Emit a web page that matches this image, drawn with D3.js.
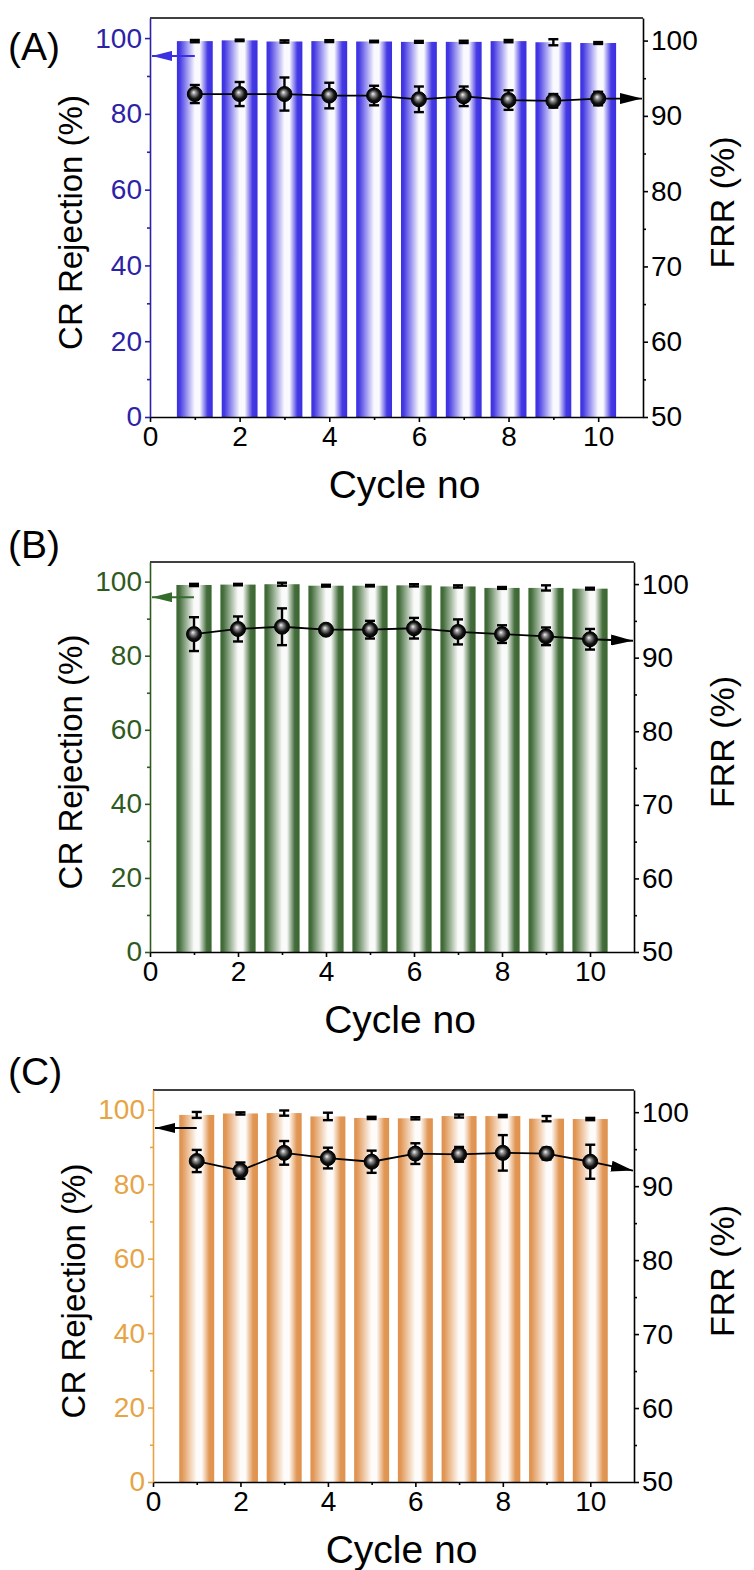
<!DOCTYPE html>
<html>
<head>
<meta charset="utf-8">
<script src="https://cdn.jsdelivr.net/npm/d3@7"></script>
<style>
  body { margin: 0; background: #fff; }
  svg { display: block; }
  text { font-family: "Liberation Sans", Arial, sans-serif; }
</style>
</head>
<body>
<div id="chart"></div>
<script>
// ---- data ----
var cycles = [1, 2, 3, 4, 5, 6, 7, 8, 9, 10];

var crA    = [99.2, 99.4, 99.1, 99.2, 99.1, 99.0, 99.0, 99.2, 98.9, 98.7];
var crAErr = [0.3, 0.2, 0.3, 0.25, 0.2, 0.25, 0.3, 0.3, 0.8, 0.25];
var frrA    = [92.9, 92.9, 92.9, 92.7, 92.7, 92.2, 92.6, 92.1, 92.0, 92.3];
var frrAErr = [1.2, 1.6, 2.2, 1.7, 1.3, 1.7, 1.3, 1.3, 0.9, 0.9];

var crB    = [99.1, 99.2, 99.3, 98.9, 98.9, 99.0, 98.7, 98.3, 98.3, 98.1];
var crBErr = [0.3, 0.2, 0.4, 0.25, 0.2, 0.3, 0.3, 0.25, 0.7, 0.25];
var frrB    = [93.2, 93.9, 94.2, 93.8, 93.8, 94.0, 93.5, 93.2, 92.9, 92.5];
var frrBErr = [2.3, 1.7, 2.5, 0.6, 1.2, 1.4, 1.7, 1.2, 1.2, 1.4];

var crC    = [98.6, 99.0, 99.1, 98.2, 97.8, 97.7, 98.3, 98.3, 97.6, 97.5];
var crCErr = [0.8, 0.3, 0.7, 1.0, 0.3, 0.3, 0.4, 0.3, 0.7, 0.3];
var frrC    = [93.4, 92.1, 94.5, 93.8, 93.3, 94.4, 94.3, 94.5, 94.4, 93.3];
var frrCErr = [1.5, 1.1, 1.6, 1.4, 1.5, 1.4, 1.0, 2.4, 0.8, 2.3];

var xTicks = [0, 2, 4, 6, 8, 10];
var xMinor = [1, 3, 5, 7, 9];
var leftTicks = [0, 20, 40, 60, 80, 100];
var leftMinor = [10, 30, 50, 70, 90];
var rightTicks = [50, 60, 70, 80, 90, 100];
var rightMinor = [55, 65, 75, 85, 95];

var panels = [
  { label: "(A)", cr: crA, crErr: crAErr, frr: frrA, frrErr: frrAErr,
    crArrow: 95.3, frrArrow: 92.3,
    bar: "#3b30e2", axis: "#2c22a6", arrow: "#3b30e2",
    box: { left: 150, right: 643, top: 18, bottom: 417 }, labelY: 60 },
  { label: "(B)", cr: crB, crErr: crBErr, frr: frrB, frrErr: frrBErr,
    crArrow: 95.8, frrArrow: 92.3,
    bar: "#3a6631", axis: "#2f5a1f", arrow: "#356b2c",
    box: { left: 150, right: 634, top: 562, bottom: 952 }, labelY: 558 },
  { label: "(C)", cr: crC, crErr: crCErr, frr: frrC, frrErr: frrCErr,
    crArrow: 95.1, frrArrow: 92.1,
    bar: "#df924d", axis: "#e6a444", arrow: "#000",
    box: { left: 153, right: 634, top: 1090, bottom: 1482 }, labelY: 1085 }
];

var svg = d3.select("#chart").append("svg")
  .attr("width", 754).attr("height", 1570);
var defs = svg.append("defs");

// shiny black sphere for the FRR markers
var sg = defs.append("radialGradient").attr("id", "sphere")
  .attr("cx", "50%").attr("cy", "50%").attr("r", "50%")
  .attr("fx", "42%").attr("fy", "38%");
[[0, "#f2f2f2"], [0.3, "#8a8a8a"], [0.7, "#151515"], [1, "#000"]].forEach(function(s) {
  sg.append("stop").attr("offset", s[0]).attr("stop-color", s[1]);
});

panels.forEach(function(p, k) {
  var b = p.box;
  var x = d3.scaleLinear().domain([0, 11]).range([b.left, b.right]);
  var yL = d3.scaleLinear().domain([0, 105.3]).range([b.bottom, b.top]);
  var yR = d3.scaleLinear().domain([50, 103]).range([b.bottom, b.top]);
  var g = svg.append("g");

  // bar fill: colour -> white -> colour across each bar
  var fade = d3.interpolateRgb(p.bar, "#ffffff");
  var lg = defs.append("linearGradient").attr("id", "bar" + k)
    .attr("x1", "0").attr("x2", "1").attr("y1", "0").attr("y2", "0");
  [[0, 0], [0.08, 0.05], [0.5, 0.97], [0.64, 0.97], [0.86, 0.05], [1, 0]].forEach(function(s) {
    lg.append("stop").attr("offset", s[0]).attr("stop-color", fade(s[1]));
  });

  // arrow heads
  defs.append("marker").attr("id", "headL" + k)
    .attr("viewBox", "0 0 20 10").attr("refX", 20).attr("refY", 5)
    .attr("markerWidth", 20).attr("markerHeight", 10)
    .attr("markerUnits", "userSpaceOnUse").attr("orient", "auto")
    .append("path").attr("d", "M0,0L20,5L0,10Z").attr("fill", p.arrow);
  defs.append("marker").attr("id", "headR" + k)
    .attr("viewBox", "0 0 22 11").attr("refX", 22).attr("refY", 5.5)
    .attr("markerWidth", 22).attr("markerHeight", 11)
    .attr("markerUnits", "userSpaceOnUse").attr("orient", "auto")
    .append("path").attr("d", "M0,0L22,5.5L0,11Z").attr("fill", "#000");

  var bw = x(0.8) - x(0);

  g.selectAll(".bar").data(cycles).enter().append("rect")
    .attr("x", function(c) { return x(c - 0.4); })
    .attr("width", bw)
    .attr("y", function(c, i) { return yL(p.cr[i]); })
    .attr("height", function(c, i) { return yL(0) - yL(p.cr[i]); })
    .attr("fill", "url(#bar" + k + ")");

  // error bars on the bars
  var eb = g.selectAll(".eb").data(cycles).enter().append("g")
    .attr("stroke", "#000").attr("stroke-width", 2.4);
  eb.append("line")
    .attr("x1", function(c) { return x(c); }).attr("x2", function(c) { return x(c); })
    .attr("y1", function(c, i) { return yL(p.cr[i] - p.crErr[i]); })
    .attr("y2", function(c, i) { return yL(p.cr[i] + p.crErr[i]); });
  eb.append("line")
    .attr("x1", function(c) { return x(c) - 5; }).attr("x2", function(c) { return x(c) + 5; })
    .attr("y1", function(c, i) { return yL(p.cr[i] + p.crErr[i]); })
    .attr("y2", function(c, i) { return yL(p.cr[i] + p.crErr[i]); });
  eb.append("line")
    .attr("x1", function(c) { return x(c) - 5; }).attr("x2", function(c) { return x(c) + 5; })
    .attr("y1", function(c, i) { return yL(p.cr[i] - p.crErr[i]); })
    .attr("y2", function(c, i) { return yL(p.cr[i] - p.crErr[i]); });

  // left arrow -> CR axis
  g.append("line")
    .attr("x1", x(1)).attr("x2", x(0) + 2)
    .attr("y1", yL(p.crArrow)).attr("y2", yL(p.crArrow))
    .attr("stroke", p.arrow).attr("stroke-width", 2)
    .attr("marker-end", "url(#headL" + k + ")");

  // FRR line and arrow -> right axis
  var line = d3.line()
    .x(function(c) { return x(c); })
    .y(function(c, i) { return yR(p.frr[i]); });
  g.append("path").datum(cycles).attr("d", line)
    .attr("fill", "none").attr("stroke", "#000").attr("stroke-width", 1.8);
  g.append("line")
    .attr("x1", x(10)).attr("y1", yR(p.frr[9]))
    .attr("x2", x(11) - 1).attr("y2", yR(p.frrArrow))
    .attr("stroke", "#000").attr("stroke-width", 1.8)
    .attr("marker-end", "url(#headR" + k + ")");

  var fe = g.selectAll(".fe").data(cycles).enter().append("g")
    .attr("stroke", "#000").attr("stroke-width", 2.4);
  fe.append("line")
    .attr("x1", function(c) { return x(c); }).attr("x2", function(c) { return x(c); })
    .attr("y1", function(c, i) { return yR(p.frr[i] - p.frrErr[i]); })
    .attr("y2", function(c, i) { return yR(p.frr[i] + p.frrErr[i]); });
  fe.append("line")
    .attr("x1", function(c) { return x(c) - 5; }).attr("x2", function(c) { return x(c) + 5; })
    .attr("y1", function(c, i) { return yR(p.frr[i] + p.frrErr[i]); })
    .attr("y2", function(c, i) { return yR(p.frr[i] + p.frrErr[i]); });
  fe.append("line")
    .attr("x1", function(c) { return x(c) - 5; }).attr("x2", function(c) { return x(c) + 5; })
    .attr("y1", function(c, i) { return yR(p.frr[i] - p.frrErr[i]); })
    .attr("y2", function(c, i) { return yR(p.frr[i] - p.frrErr[i]); });

  g.selectAll(".pt").data(cycles).enter().append("circle")
    .attr("cx", function(c) { return x(c); })
    .attr("cy", function(c, i) { return yR(p.frr[i]); })
    .attr("r", 7.5)
    .attr("fill", "url(#sphere)")
    .attr("stroke", "#000").attr("stroke-width", 1);

  // axes
  function styleAxis(sel, color, size) {
    sel.selectAll("path").attr("stroke", color).attr("stroke-width", 1.6);
    sel.selectAll("line").attr("stroke", color).attr("stroke-width", 1.6);
    sel.selectAll("text").attr("fill", color).style("font-size", size + "px")
      .style("font-family", "'Liberation Sans', Arial, sans-serif");
  }

  g.append("line").attr("x1", x(0)).attr("x2", x(11))
    .attr("y1", b.top).attr("y2", b.top)
    .attr("stroke", "#000").attr("stroke-width", 1.6);

  var ax = g.append("g").attr("transform", "translate(0," + b.bottom + ")")
    .call(d3.axisBottom(x).tickValues(xTicks).tickSize(5).tickSizeOuter(0).tickPadding(4));
  styleAxis(ax, "#000", 28);
  var axm = g.append("g").attr("transform", "translate(0," + b.bottom + ")")
    .call(d3.axisBottom(x).tickValues(xMinor).tickSize(3).tickFormat(""));
  axm.select(".domain").remove();
  styleAxis(axm, "#000", 28);

  var ayr = g.append("g").attr("transform", "translate(" + b.right + ",0)")
    .call(d3.axisRight(yR).tickValues(rightTicks).tickSize(5).tickSizeOuter(0).tickPadding(3));
  styleAxis(ayr, "#000", 28);
  var ayrm = g.append("g").attr("transform", "translate(" + b.right + ",0)")
    .call(d3.axisRight(yR).tickValues(rightMinor).tickSize(3).tickFormat(""));
  ayrm.select(".domain").remove();
  styleAxis(ayrm, "#000", 28);

  var ayl = g.append("g").attr("transform", "translate(" + b.left + ",0)")
    .call(d3.axisLeft(yL).tickValues(leftTicks).tickSize(5).tickSizeOuter(0).tickPadding(3));
  styleAxis(ayl, p.axis, 28);
  var aylm = g.append("g").attr("transform", "translate(" + b.left + ",0)")
    .call(d3.axisLeft(yL).tickValues(leftMinor).tickSize(3).tickFormat(""));
  aylm.select(".domain").remove();
  styleAxis(aylm, p.axis, 28);

  // titles
  var midY = (b.top + b.bottom) / 2;
  g.append("text").attr("x", (b.left + b.right) / 2 + 8).attr("y", b.bottom + 81)
    .attr("text-anchor", "middle").style("font-size", "39px").attr("fill", "#000")
    .text("Cycle no");
  g.append("text").attr("transform", "translate(" + (b.left - 68) + "," + (midY + 5) + ") rotate(-90)")
    .attr("text-anchor", "middle").style("font-size", "33px").attr("fill", "#000")
    .text("CR Rejection (%)");
  g.append("text").attr("transform", "translate(734," + (midY - 15) + ") rotate(-90)")
    .attr("text-anchor", "middle").style("font-size", "34px").attr("fill", "#000")
    .text("FRR (%)");
  g.append("text").attr("x", 8).attr("y", p.labelY)
    .style("font-size", "39px").attr("fill", "#000")
    .text(p.label);
});
</script>
</body>
</html>
